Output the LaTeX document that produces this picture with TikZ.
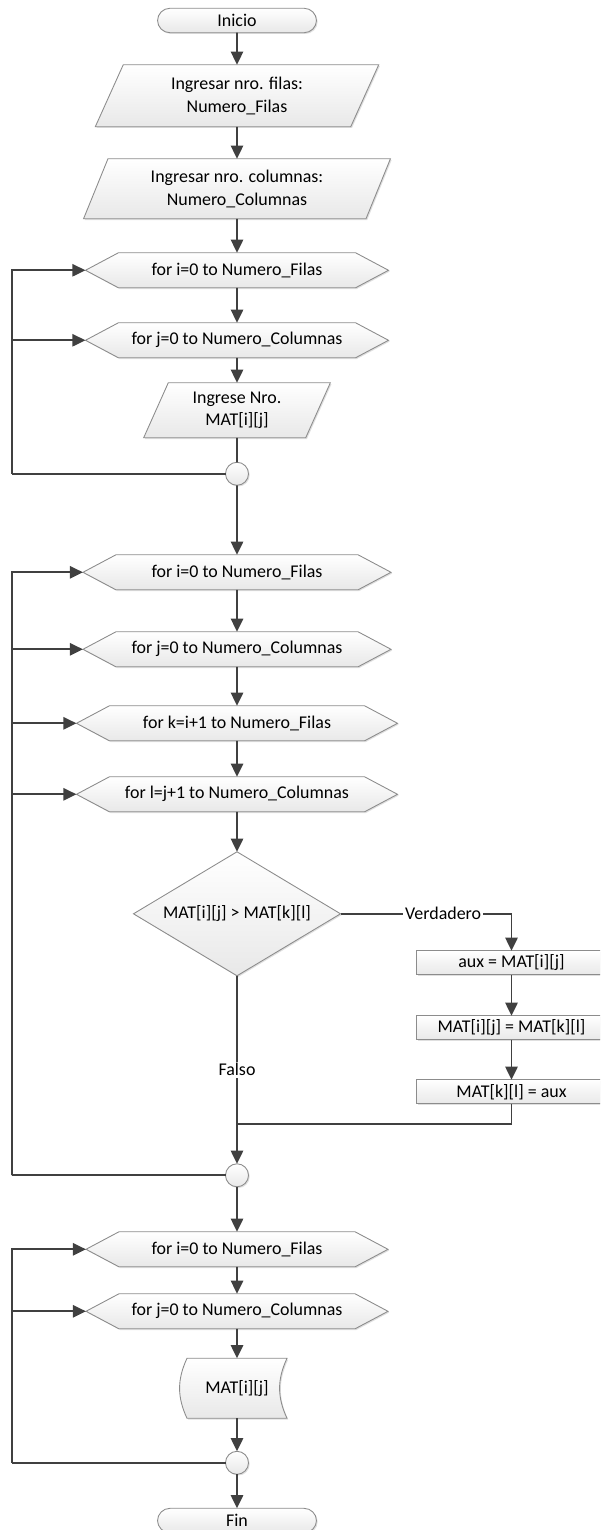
\documentclass[tikz,border=0pt]{standalone}
\usepackage{fontspec}
\setmainfont{Carlito}
\usetikzlibrary{positioning,shapes.geometric,shapes.symbols,shadows,arrows.meta,backgrounds}

\definecolor{linegray}{HTML}{404040}
\definecolor{bordergray}{HTML}{8C8C8C}

\begin{document}
\begin{tikzpicture}[
	every node/.style={font=\fontsize{10.2}{13}\selectfont},
	shapebase/.style={draw=bordergray,line width=0.5pt,top color=white,bottom color=black!9,outer sep=0pt,
		drop shadow={shadow xshift=0.7pt,shadow yshift=-0.7pt,fill=black!25,opacity=0.5},align=center,inner sep=1pt},
	termnode/.style={shapebase,rectangle,rounded corners=2.5mm,minimum width=31.8mm,minimum height=4.9mm},
	ionode/.style={shapebase,trapezium,trapezium left angle=68,trapezium right angle=112,trapezium stretches},
	loopnode/.style={shapebase,signal,signal to=west and east,signal pointer angle=56,minimum height=7mm},
	decnode/.style={shapebase,diamond,aspect=1.67,minimum width=41.4mm,minimum height=24.8mm,inner sep=0pt},
	procnode/.style={shapebase,rectangle,minimum width=38mm,minimum height=4.8mm},
	joinnode/.style={shapebase,circle,minimum size=4.6mm,inner sep=0pt},
	dispnode/.style={minimum width=20mm,minimum height=12mm,inner sep=0pt,outer sep=0pt},
	flow/.style={draw=linegray,line width=1.1pt},
	arr/.style={flow,-{Triangle[width=7pt,length=7.5pt]}}]

		\useasboundingbox (0,0) rectangle (12,-30.6);
		\clip (0,0) rectangle (12,-30.6);
		\coordinate (lp) at (0.24,0);

		\node[termnode]													(ini)	at (4.74,-0.41) {Inicio};
		\node[ionode,minimum width=56.8mm,minimum height=12.4mm,below=6.4mm of ini]	(p1)	{Ingresar nro. filas:\\Numero\_Filas};
		\node[ionode,minimum width=61.4mm,minimum height=12mm,below=6.4mm of p1]	(p2)	{Ingresar nro. columnas:\\Numero\_Columnas};
		\node[loopnode,minimum width=60.6mm,below=6.8mm of p2]				(f1)	{for i=0 to Numero\_Filas};
		\node[loopnode,minimum width=60.6mm,below=7mm of f1]				(f2)	{for j=0 to Numero\_Columnas};
		\node[ionode,minimum width=37.4mm,minimum height=11mm,below=5mm of f2]	(p3)	{Ingrese Nro.\\MAT[i][j]};
		\node[joinnode,below=4.9mm of p3]									(c1)	{};
		\node[loopnode,minimum width=61.6mm,below=13.9mm of c1]				(f3)	{for i=0 to Numero\_Filas};
		\node[loopnode,minimum width=61.6mm,below=8.4mm of f3]				(f4)	{for j=0 to Numero\_Columnas};
		\node[loopnode,minimum width=64.2mm,below=7.8mm of f4]				(f5)	{for k=i+1 to Numero\_Filas};
		\node[loopnode,minimum width=64.2mm,below=7.2mm of f5]				(f6)	{for l=j+1 to Numero\_Columnas};
		\node[decnode,below=8mm of f6]										(d1)	{MAT[i][j] > MAT[k][l]};
		\node[procnode,below=7.4mm of d1.east,xshift=34.2mm]				(b1)	{aux = MAT[i][j]};
		\node[procnode,below=8.2mm of b1]									(b2)	{MAT[i][j] = MAT[k][l]};
		\node[procnode,below=8mm of b2]										(b3)	{MAT[k][l] = aux};
		\node[joinnode,below=37.6mm of d1]									(c2)	{};
		\node[loopnode,minimum width=60.4mm,below=9mm of c2]				(f7)	{for i=0 to Numero\_Filas};
		\node[loopnode,minimum width=60.4mm,below=5.4mm of f7]				(f8)	{for j=0 to Numero\_Columnas};
		\node[dispnode,below=5.9mm of f8]									(o1)	{MAT[i][j]};
		\node[joinnode,below=6.6mm of o1]									(c3)	{};
		\node[termnode,below=6.8mm of c3]									(fin)	{Fin};

		% display shape behind its text
		\begin{scope}[on background layer]
			\path[shapebase] (o1.north west) -- (o1.north east) to[bend right=25] (o1.south east)
				-- (o1.south west) to[bend left=25] (o1.north west) -- cycle;
		\end{scope}

		\draw[arr] (ini) -- (p1);
		\draw[arr] (p1) -- (p2);
		\draw[arr] (p2) -- (f1);
		\draw[arr] (f1) -- (f2);
		\draw[arr] (f2) -- (p3);
		\draw[flow] (p3) -- (c1);
		\draw[arr] (c1) -- (f3);
		\draw[arr] (f3) -- (f4);
		\draw[arr] (f4) -- (f5);
		\draw[arr] (f5) -- (f6);
		\draw[arr] (f6) -- (d1);
		\draw[arr] (d1.east) -- node[pos=0.6,fill=white,inner sep=1pt] {Verdadero} (d1.east -| b1.north) -- (b1.north);
		\draw[arr] (b1) -- (b2);
		\draw[arr] (b2) -- (b3);
		\path (b3.south) ++(0,-0.4) coordinate (bj);
		\draw[flow] (b3.south) -- (bj) -- (bj -| d1.south);
		\draw[arr] (d1.south) -- node[fill=white,inner sep=1pt] {Falso} (c2.north);
		\draw[arr] (c2) -- (f7);
		\draw[arr] (f7) -- (f8);
		\draw[arr] (f8) -- (o1);
		\draw[arr] (o1) -- (c3);
		\draw[arr] (c3) -- (fin);

		% loops back to the for nodes
		\draw[flow] (c1.west) -- (c1.west -| lp);
		\draw[arr] (c1.west -| lp) |- (f1.west);
		\draw[arr] (c1.west -| lp) |- (f2.west);
		\draw[flow] (c2.west) -- (c2.west -| lp);
		\draw[arr] (c2.west -| lp) |- (f3.west);
		\draw[arr] (c2.west -| lp) |- (f4.west);
		\draw[arr] (c2.west -| lp) |- (f5.west);
		\draw[arr] (c2.west -| lp) |- (f6.west);
		\draw[flow] (c3.west) -- (c3.west -| lp);
		\draw[arr] (c3.west -| lp) |- (f7.west);
		\draw[arr] (c3.west -| lp) |- (f8.west);
	\end{tikzpicture}
\end{document}
